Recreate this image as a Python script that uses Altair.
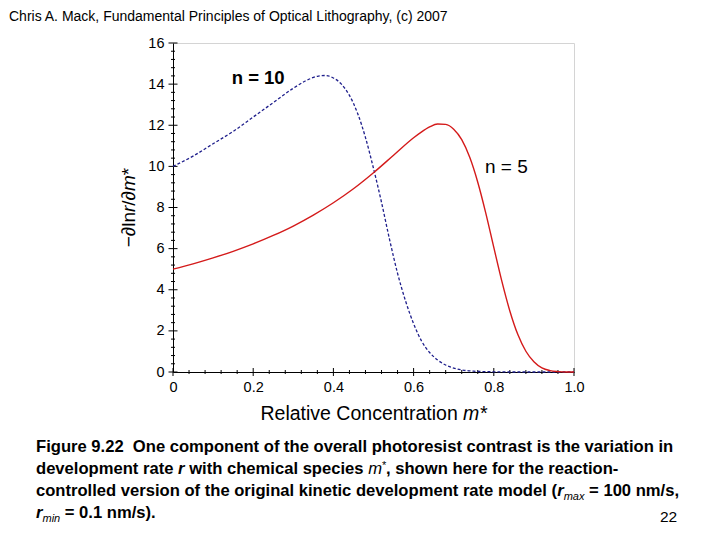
import altair as alt
import pandas as pd

FONT = "Liberation Sans"

# ---- data ----
m_n10 = [0, 0.05, 0.1, 0.15, 0.2, 0.25, 0.3, 0.33, 0.36, 0.38, 0.4, 0.42, 0.44, 0.46,
         0.48, 0.5, 0.52, 0.54, 0.56, 0.58, 0.6, 0.62, 0.64, 0.66, 0.68, 0.7, 0.72,
         0.75, 0.8, 0.85, 0.9, 0.95, 1.0]
v_n10 = [10.0, 10.5, 11.1, 11.7, 12.4, 13.1, 13.8, 14.15, 14.38, 14.42, 14.3, 14.0,
         13.45, 12.6, 11.4, 9.9, 8.25, 6.45, 4.8, 3.45, 2.35, 1.5, 0.95, 0.58, 0.34,
         0.19, 0.1, 0.04, 0.01, 0, 0, 0, 0]

m_n5 = [0, 0.05, 0.1, 0.15, 0.2, 0.25, 0.3, 0.35, 0.4, 0.45, 0.5, 0.55, 0.6, 0.62,
        0.64, 0.66, 0.68, 0.7, 0.72, 0.74, 0.76, 0.78, 0.8, 0.82, 0.84, 0.86, 0.88,
        0.9, 0.92, 0.94, 0.96, 0.98, 1.0]
v_n5 = [5.0, 5.26, 5.55, 5.87, 6.23, 6.64, 7.1, 7.63, 8.23, 8.91, 9.69, 10.54, 11.39,
        11.68, 11.92, 12.06, 12.04, 11.81, 11.3, 10.44, 9.23, 7.73, 6.06, 4.42, 2.97,
        1.82, 1.01, 0.5, 0.2, 0.07, 0.02, 0, 0]

x_major = [0, 0.2, 0.4, 0.6, 0.8, 1.0]
x_minor = [0.04, 0.08, 0.12, 0.16, 0.24, 0.28, 0.32, 0.36, 0.44, 0.48, 0.52, 0.56,
           0.64, 0.68, 0.72, 0.76, 0.84, 0.88, 0.92, 0.96]
y_major = [0, 2, 4, 6, 8, 10, 12, 14, 16]
y_minor = [0.4, 0.8, 1.2, 1.6, 2.4, 2.8, 3.2, 3.6, 4.4, 4.8, 5.2, 5.6, 6.4, 6.8, 7.2,
           7.6, 8.4, 8.8, 9.2, 9.6, 10.4, 10.8, 11.2, 11.6, 12.4, 12.8, 13.2, 13.6,
           14.4, 14.8, 15.2, 15.6]

header_text = "Chris A. Mack, Fundamental Principles of Optical Lithography, (c) 2007"
label_n10 = "n = 10"
label_n5 = "n = 5"
x_title = ["Relative Concentration", "m*"]
y_title = ["\u2212\u2202ln", "r", "/\u2202", "m", "*"]
caption_1 = "Figure 9.22\u00a0 One component of the overall photoresist contrast is the variation in"
caption_2 = ["development rate", "r", "with chemical species", "m", "*",
             ", shown here for the reaction-"]
caption_3 = ["controlled version of the original kinetic development rate model (", "r",
             "max", "= 100 nm/s,"]
caption_4 = ["r", "min", "= 0.1 nm/s)."]
page_no = "22"

df10 = pd.DataFrame({"m": m_n10, "v": v_n10})
df5 = pd.DataFrame({"m": m_n5, "v": v_n5})

xs = alt.Scale(domain=[0, 1], nice=False, zero=False)
ys = alt.Scale(domain=[0, 16], nice=False, zero=False)

LBL = 14.5
xaxis = alt.Axis(values=x_major, title=None, ticks=False, grid=False,
                 labelExpr="datum.value == 0 ? '0' : format(datum.value, '.1f')",
                 domainColor="black", domainWidth=1, labelFont=FONT, labelFontSize=LBL,
                 labelColor="black", labelPadding=8, labelFlush=False)
yaxis = alt.Axis(values=y_major, title=None, ticks=False, grid=False, format="d",
                 domainColor="black", domainWidth=1, labelFont=FONT, labelFontSize=LBL,
                 labelColor="black", labelPadding=9)

X = alt.X("m:Q", scale=xs, axis=xaxis)
Y = alt.Y("v:Q", scale=ys, axis=yaxis)

line10 = alt.Chart(df10).mark_line(color="#1f1f8c", strokeWidth=1.3, strokeDash=[3, 2],
                                   interpolate="monotone").encode(x=X, y=Y)
line5 = alt.Chart(df5).mark_line(color="#d41a1a", strokeWidth=1.4,
                                 interpolate="monotone").encode(x=X, y=Y)

PH = 329
xt_major = alt.Chart(pd.DataFrame({"m": x_major})).mark_rule(color="black", strokeWidth=1).encode(
    x=X, y=alt.value(PH - 4), y2=alt.value(PH + 4))
xt_minor = alt.Chart(pd.DataFrame({"m": x_minor})).mark_rule(color="black", strokeWidth=1).encode(
    x=X, y=alt.value(PH - 2), y2=alt.value(PH + 2))
yt_major = alt.Chart(pd.DataFrame({"v": y_major})).mark_rule(color="black", strokeWidth=1).encode(
    y=Y, x=alt.value(-4.5), x2=alt.value(4.5))
yt_minor = alt.Chart(pd.DataFrame({"v": y_minor})).mark_rule(color="black", strokeWidth=1).encode(
    y=Y, x=alt.value(-2), x2=alt.value(2))


def txt(text, px, py, size, weight="normal", style="normal", angle=0, align="left"):
    return alt.Chart(alt.Data(values=[{"t": text}])).mark_text(
        align=align, baseline="alphabetic", font=FONT, fontSize=size,
        fontWeight=weight, fontStyle=style, angle=angle, color="black"
    ).encode(x=alt.value(px), y=alt.value(py), text="t:N")


texts = [
    txt(header_text, -164, -22, 14),
    txt(label_n10, 58.7, 41, 18.5, weight="bold"),
    txt(label_n5, 312, 130, 19),
    txt(x_title[0], 87.5, 377, 19.5),
    txt(x_title[1], 290.1, 377, 19.5, style="italic"),
    # rotated y title
    txt(y_title[0], -38, 204.3, 19, angle=270),
    txt(y_title[1], -38, 169.0, 19, style="italic", angle=270),
    txt(y_title[2], -38, 162.7, 19, angle=270),
    txt(y_title[3], -38, 148.0, 19, style="italic", angle=270),
    txt(y_title[4], -38, 132.2, 19, angle=270),
    # caption
    txt(caption_1, -137, 409, 16.6, weight="bold"),
    txt(caption_2[0], -137, 431, 16.6, weight="bold"),
    txt(caption_2[1], 5.1, 431, 16.6, weight="bold", style="italic"),
    txt(caption_2[2], 16.2, 431, 16.6, weight="bold"),
    txt(caption_2[3], 195.2, 431, 16.6, style="italic"),
    txt(caption_2[4], 209, 426, 11),
    txt(caption_2[5], 213, 431, 16.6, weight="bold"),
    txt(caption_3[0], -137, 453, 16.6, weight="bold"),
    txt(caption_3[1], 384.2, 453, 16.6, weight="bold", style="italic"),
    txt(caption_3[2], 390.7, 457, 11, style="italic"),
    txt(caption_3[3], 416.1, 453, 16.6, weight="bold"),
    txt(caption_4[0], -137, 475, 16.6, weight="bold", style="italic"),
    txt(caption_4[1], -130.5, 479, 11, style="italic"),
    txt(caption_4[2], -108.2, 475, 16.6, weight="bold"),
    txt(page_no, 487, 479, 15.5),
]

chart = alt.layer(xt_minor, xt_major, yt_minor, yt_major, line10, line5, *texts).properties(
    width=401, height=PH,
    padding={"left": 165, "top": 35, "right": 134, "bottom": 154},
    autosize=alt.AutoSizeParams(type="none"),
    background="white",
).configure_view(stroke="#d4d4d4", strokeWidth=1).configure_axis(
    labelFont=FONT, labelFontSize=LBL, labelColor="black", domainColor="black"
)

chart.save("out.html", embed_options={"renderer": "svg", "actions": False})
